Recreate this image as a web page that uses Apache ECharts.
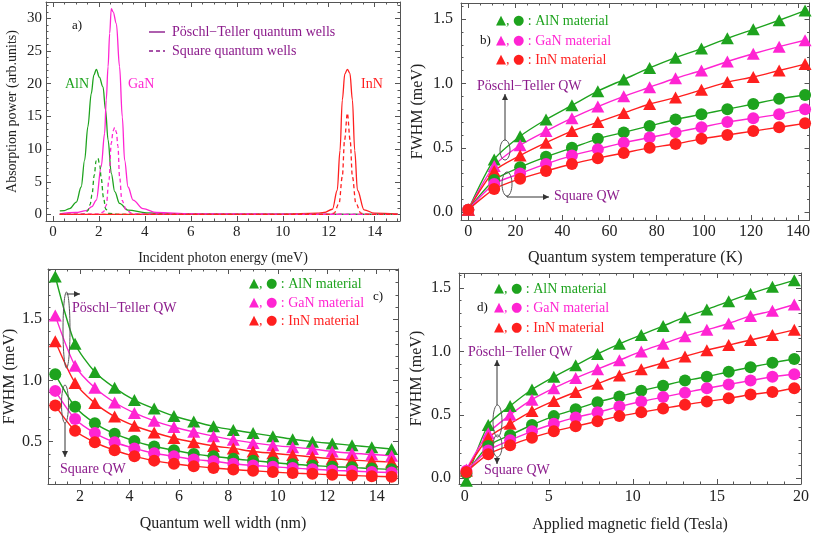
<!DOCTYPE html>
<html><head><meta charset="utf-8">
<script src="https://cdn.jsdelivr.net/npm/echarts@6/dist/echarts.min.js"></script>
<style>html,body{margin:0;padding:0;background:#fff}#c{width:813px;height:535px}</style>
</head><body><div id="c"></div>
<script>
// ---------- DATA ----------
// Panel a: absorption power vs incident photon energy (meV), [energy, power]
const aAlnPT = [[0.3,0.55],[0.5,0.6],[0.73,0.9],[1.02,1.9],[1.23,4.2],[1.38,8.3],[1.52,13.4],[1.67,18.5],[1.78,21.3],[1.89,22.2],[2.02,21.0],[2.18,19.5],[2.29,16.0],[2.40,11.4],[2.54,6.3],[2.69,3.5],[2.90,1.7],[3.27,0.66],[4.07,0.25],[5.0,0.12],[8.0,0.05],[11.0,0.03],[15.0,0.02]];
const aGanPT = [[0.3,0.1],[1.0,0.3],[1.45,0.6],[1.7,1.2],[1.89,2.2],[2.1,7.3],[2.25,12.4],[2.32,17.5],[2.40,22.6],[2.47,27.7],[2.54,31.5],[2.62,31.0],[2.76,29.2],[2.90,22.6],[3.02,14.9],[3.12,8.3],[3.27,4.2],[3.49,2.2],[3.92,0.9],[4.5,0.3],[6.0,0.1],[10.0,0.03],[15.0,0.01]];
const aInnPT = [[0.3,0.0],[10.0,0.02],[11.5,0.2],[11.8,0.3],[12.16,0.8],[12.37,3.7],[12.49,9.8],[12.59,17.5],[12.70,21.5],[12.81,22.2],[12.92,21.6],[13.03,17.5],[13.13,9.8],[13.25,3.7],[13.54,0.7],[13.98,0.2],[15.0,0.05]];
const aAlnSq = [[0.3,0.0],[1.2,0.02],[1.4,0.1],[1.52,0.6],[1.62,1.5],[1.70,3.0],[1.80,6.0],[1.88,8.2],[1.96,8.6],[2.04,7.5],[2.10,5.6],[2.20,2.6],[2.30,0.8],[2.45,0.15],[2.8,0.02],[15.0,0.0]];
const aGanSq = [[0.3,0.0],[2.0,0.05],[2.2,0.4],[2.32,1.4],[2.44,5.3],[2.54,10.9],[2.62,12.8],[2.69,13.3],[2.76,12.6],[2.83,10.4],[2.90,5.8],[3.0,2.2],[3.2,0.6],[3.5,0.1],[15.0,0.0]];
const aInnSq = [[0.3,0.0],[12.0,0.02],[12.23,0.2],[12.45,1.7],[12.59,5.8],[12.69,11.4],[12.81,15.5],[12.93,11.4],[13.03,5.8],[13.18,1.7],[13.4,0.2],[13.7,0.02],[15.0,0.0]];
const aXTicks = [0,2,4,6,8,10,12,14];
const aYTicks = [0,5,10,15,20,25,30];

// Panel b: FWHM (meV) vs temperature (K)
const bTemp  = [0,11,22,33,44,55,66,77,88,99,110,121,132,143];
const bAlnPT = [0.02,0.41,0.59,0.72,0.83,0.94,1.03,1.12,1.20,1.27,1.35,1.42,1.49,1.565];
const bGanPT = [0.02,0.36,0.52,0.63,0.73,0.82,0.90,0.97,1.04,1.10,1.17,1.23,1.285,1.335];
const bInnPT = [0.02,0.32,0.44,0.54,0.63,0.70,0.77,0.84,0.89,0.95,1.01,1.05,1.10,1.15];
const bAlnSq = [0.02,0.25,0.35,0.43,0.50,0.57,0.62,0.67,0.72,0.76,0.80,0.84,0.88,0.91];
const bGanSq = [0.02,0.22,0.30,0.375,0.44,0.49,0.54,0.58,0.62,0.66,0.70,0.73,0.76,0.80];
const bInnSq = [0.02,0.18,0.26,0.32,0.375,0.42,0.46,0.50,0.53,0.57,0.60,0.63,0.66,0.69];
const bXTicks = [0,20,40,60,80,100,120,140];
const bYTicks = [0,0.5,1.0,1.5];

// Panel c: FWHM (meV) vs quantum well width (nm)
const cWidth = [1.0,1.8,2.6,3.4,4.2,5.0,5.8,6.6,7.4,8.2,9.0,9.8,10.6,11.4,12.2,13.0,13.8,14.6];
const cAlnPT = [1.85,1.30,1.07,0.94,0.84,0.77,0.71,0.665,0.625,0.595,0.57,0.545,0.52,0.50,0.485,0.47,0.455,0.44];
const cGanPT = [1.53,1.12,0.94,0.82,0.735,0.67,0.62,0.58,0.545,0.515,0.49,0.47,0.455,0.44,0.42,0.405,0.395,0.385];
const cInnPT = [1.32,0.98,0.815,0.705,0.63,0.575,0.53,0.495,0.465,0.445,0.42,0.405,0.39,0.375,0.36,0.35,0.34,0.335];
const cAlnSq = [1.05,0.785,0.65,0.565,0.505,0.46,0.43,0.40,0.38,0.36,0.345,0.33,0.315,0.305,0.295,0.29,0.28,0.275];
const cGanSq = [0.915,0.685,0.57,0.495,0.445,0.405,0.38,0.355,0.34,0.32,0.305,0.295,0.285,0.275,0.265,0.26,0.253,0.248];
const cInnSq = [0.795,0.59,0.495,0.43,0.38,0.345,0.32,0.30,0.285,0.272,0.262,0.252,0.243,0.237,0.229,0.223,0.218,0.213];
const cXTicks = [2,4,6,8,10,12,14];
const cYTicks = [0.5,1.0,1.5];

// Panel d: FWHM (meV) vs applied magnetic field (Tesla)
const dField = [0.1,1.4,2.7,4.0,5.3,6.6,7.9,9.2,10.5,11.8,13.1,14.4,15.7,17.0,18.3,19.6];
const dAlnPT = [-0.02,0.42,0.57,0.70,0.80,0.89,0.98,1.06,1.13,1.20,1.27,1.33,1.395,1.455,1.51,1.56];
const dGanPT = [0.07,0.355,0.50,0.62,0.71,0.79,0.86,0.93,1.00,1.06,1.12,1.17,1.22,1.28,1.32,1.37];
const dInnPT = [0.06,0.32,0.43,0.53,0.61,0.68,0.745,0.81,0.86,0.91,0.96,1.01,1.05,1.09,1.13,1.17];
const dAlnSq = [0.04,0.255,0.34,0.42,0.49,0.545,0.60,0.645,0.69,0.73,0.77,0.80,0.84,0.875,0.91,0.94];
const dGanSq = [0.06,0.22,0.30,0.37,0.43,0.48,0.52,0.565,0.605,0.64,0.675,0.71,0.74,0.77,0.80,0.82];
const dInnSq = [0.05,0.19,0.26,0.32,0.37,0.41,0.45,0.49,0.52,0.55,0.58,0.605,0.63,0.66,0.68,0.71];
const dXTicks = [0,5,10,15,20];
const dYTicks = [0,0.5,1.0,1.5];

const materials = ['AlN','GaN','InN'];

// ---------- STYLE ----------
const FONT = "'Liberation Serif','DejaVu Serif',serif";
const GREEN = '#1ea31e', MAG = '#ff24d2', RED = '#ff1f1f', PURPLE = '#8b1a8b';
const COLORS = [GREEN, MAG, RED];
const AXC = '#555';

function range(a, b, s) { const r = []; for (let v = a; v <= b + 1e-9; v += s) r.push(+v.toFixed(4)); return r; }

const xAxes = [], yAxes = [];
function panelAxes(gi, c) {
  const xi = xAxes.length, yi = yAxes.length;
  const base = { gridIndex: gi, type: 'value', splitLine: { show: false } };
  const line = { show: true, onZero: false, lineStyle: { color: AXC, width: 1 } };
  const noLine = { show: false, onZero: false };
  const tick = (vals, len) => ({ show: true, inside: true, length: len, customValues: vals, lineStyle: { color: AXC, width: 1 } });
  const nts = { fontFamily: FONT, fontSize: c.nameFs, color: '#222' };
  xAxes.push(Object.assign({}, base, { min: c.xr[0], max: c.xr[1], position: 'bottom', axisLine: line, axisTick: tick(c.xMajor, 5),
    axisLabel: { show: true, customValues: c.xMajor, margin: c.xMargin, color: '#222', fontFamily: FONT, fontSize: c.tickFs },
    name: c.xName, nameLocation: 'middle', nameGap: c.xGap, nameTextStyle: nts }));
  xAxes.push(Object.assign({}, base, { min: c.xr[0], max: c.xr[1], position: 'top', axisLine: line, axisTick: tick(c.xMajor, 5), axisLabel: { show: false } }));
  xAxes.push(Object.assign({}, base, { min: c.xr[0], max: c.xr[1], position: 'bottom', axisLine: noLine, axisTick: tick(c.xMinor, 2.5), axisLabel: { show: false } }));
  xAxes.push(Object.assign({}, base, { min: c.xr[0], max: c.xr[1], position: 'top', axisLine: noLine, axisTick: tick(c.xMinor, 2.5), axisLabel: { show: false } }));
  yAxes.push(Object.assign({}, base, { min: c.yr[0], max: c.yr[1], position: 'left', axisLine: line, axisTick: tick(c.yMajor, 5),
    axisLabel: { show: true, customValues: c.yMajor, margin: c.yMargin, color: '#222', fontFamily: FONT, fontSize: c.tickFs, formatter: c.yFmt },
    name: c.yName, nameLocation: 'middle', nameGap: c.yGap, nameTextStyle: nts }));
  yAxes.push(Object.assign({}, base, { min: c.yr[0], max: c.yr[1], position: 'right', axisLine: line, axisTick: tick(c.yMajor, 5), axisLabel: { show: false } }));
  yAxes.push(Object.assign({}, base, { min: c.yr[0], max: c.yr[1], position: 'left', axisLine: noLine, axisTick: tick(c.yMinor, 2.5), axisLabel: { show: false } }));
  yAxes.push(Object.assign({}, base, { min: c.yr[0], max: c.yr[1], position: 'right', axisLine: noLine, axisTick: tick(c.yMinor, 2.5), axisLabel: { show: false } }));
  return { xi, yi };
}
const f1 = v => (+v).toFixed(1);

const grids = [
  { left: 46, top: 2, width: 354, height: 219 },
  { left: 461, top: 3, width: 349, height: 217 },
  { left: 48, top: 269, width: 350, height: 215 },
  { left: 459, top: 273, width: 342, height: 211 }
];

const A = panelAxes(0, { xr: [-0.3, 15.1], yr: [-1, 32.5], xMajor: aXTicks, xMinor: range(0, 15, 0.5), yMajor: aYTicks, yMinor: range(0, 32, 1),
  xName: 'Incident photon energy (meV)', yName: 'Absorption power (arb.units)', xGap: 30, yGap: 27, xMargin: 4, yMargin: 4, tickFs: 15, nameFs: 14 });
const B = panelAxes(1, { xr: [-3.1, 144.9], yr: [-0.06, 1.624], xMajor: bXTicks, xMinor: range(0, 144, 5), yMajor: bYTicks, yMinor: range(0, 1.6, 0.1),
  xName: 'Quantum system temperature (K)', yName: 'FWHM (meV)', xGap: 30, yGap: 35, xMargin: 4, yMargin: 8, tickFs: 16, nameFs: 16, yFmt: f1 });
const C = panelAxes(2, { xr: [0.706, 14.86], yr: [0.154, 1.911], xMajor: cXTicks, xMinor: range(1, 14.5, 0.5), yMajor: cYTicks, yMinor: range(0.2, 1.9, 0.1),
  xName: 'Quantum well width (nm)', yName: 'FWHM (meV)', xGap: 32, yGap: 28, xMargin: 5, yMargin: 6, tickFs: 16, nameFs: 16, yFmt: f1 });
const D = panelAxes(3, { xr: [-0.34, 20], yr: [-0.045, 1.618], xMajor: dXTicks, xMinor: range(0, 20, 1), yMajor: dYTicks, yMinor: range(0, 1.6, 0.1),
  xName: 'Applied magnetic field (Tesla)', yName: 'FWHM (meV)', xGap: 33, yGap: 34, xMargin: 5, yMargin: 8, tickFs: 16, nameFs: 16, yFmt: f1 });

const series = [];
[[aAlnPT, 0, 'solid'], [aGanPT, 1, 'solid'], [aInnPT, 2, 'solid'], [aAlnSq, 0, 'dashed'], [aGanSq, 1, 'dashed'], [aInnSq, 2, 'dashed']].forEach(([d, ci, ty]) => {
  series.push({ type: 'line', xAxisIndex: A.xi, yAxisIndex: A.yi, data: d, showSymbol: false, smooth: 0.35, smoothMonotone: 'x',
    lineStyle: { color: COLORS[ci], width: 1.3, type: ty === 'dashed' ? [4, 3] : 'solid' }, clip: true, silent: true });
});
function fwhmSeries(ax, xs, sets) {
  sets.forEach(([ys, ci, sym]) => {
    series.push({ type: 'line', xAxisIndex: ax.xi, yAxisIndex: ax.yi, data: xs.map((x, i) => [x, ys[i]]), smooth: 0.25,
      symbol: sym, symbolSize: sym === 'triangle' ? [13, 12] : 12, showAllSymbol: true, clip: true,
      itemStyle: { color: COLORS[ci] }, lineStyle: { color: COLORS[ci], width: 1.4 }, silent: true });
  });
}
fwhmSeries(B, bTemp, [[bAlnPT, 0, 'triangle'], [bGanPT, 1, 'triangle'], [bInnPT, 2, 'triangle'], [bAlnSq, 0, 'circle'], [bGanSq, 1, 'circle'], [bInnSq, 2, 'circle']]);
fwhmSeries(C, cWidth, [[cAlnPT, 0, 'triangle'], [cGanPT, 1, 'triangle'], [cInnPT, 2, 'triangle'], [cAlnSq, 0, 'circle'], [cGanSq, 1, 'circle'], [cInnSq, 2, 'circle']]);
fwhmSeries(D, dField, [[dAlnPT, 0, 'triangle'], [dGanPT, 1, 'triangle'], [dInnPT, 2, 'triangle'], [dAlnSq, 0, 'circle'], [dGanSq, 1, 'circle'], [dInnSq, 2, 'circle']]);

// ---------- ANNOTATIONS ----------
const G = [];
function txt(t, x, y, fill, fs, align, rich) {
  const st = { text: t, x: x, y: y, fill: fill, fontFamily: FONT, fontSize: fs || 14, verticalAlign: 'middle', align: align || 'left' };
  if (rich) st.rich = rich;
  G.push({ type: 'text', z: 100, style: st });
}
function ln(x1, y1, x2, y2, color, dash, w) {
  G.push({ type: 'line', z: 100, shape: { x1, y1, x2, y2 }, style: { stroke: color, lineWidth: w || 1, lineDash: dash || null } });
}
function ell(cx, cy, rx, ry) {
  G.push({ type: 'ellipse', z: 100, shape: { cx, cy, rx, ry }, style: { fill: null, stroke: '#555', lineWidth: 1 } });
}
function arrow(x1, y1, x2, y2) {
  ln(x1, y1, x2, y2, '#333');
  const a = Math.atan2(y2 - y1, x2 - x1), L = 6, W = 3;
  const bx = x2 - L * Math.cos(a), by = y2 - L * Math.sin(a);
  G.push({ type: 'polygon', z: 100, shape: { points: [[x2, y2], [bx + W * Math.sin(a), by - W * Math.cos(a)], [bx - W * Math.sin(a), by + W * Math.cos(a)]] }, style: { fill: '#333' } });
}
function legend3(x, ys) {
  materials.forEach((m, i) => txt('{s|\u25B2}{t|, }{s|\u25CF}{t| : ' + m + ' material}', x, ys[i], COLORS[i], 14,
    'left', { s: { fontSize: 13, fontFamily: "'DejaVu Sans',sans-serif", fill: COLORS[i] }, t: { fontSize: 14, fontFamily: FONT, fill: COLORS[i] } }));
}
// panel a
ln(149, 32, 165, 32, PURPLE, null, 1.4); txt('Pöschl\u2212Teller quantum wells', 172, 32, PURPLE, 14);
ln(149, 51, 165, 51, PURPLE, [4, 3], 1.4); txt('Square quantum wells', 172, 51, PURPLE, 14);
txt('a)', 72, 26, '#111', 13);
txt('AlN', 65, 84, GREEN, 14); txt('GaN', 128, 84, MAG, 14); txt('InN', 361, 84, RED, 14);
// panel b
legend3(496, [21, 41, 60]); txt('b)', 480, 41, '#111', 13);
ell(505, 150, 5, 10); ell(507, 184, 5, 12);
arrow(505, 140, 505, 94); txt('Pöschl\u2212Teller QW', 477, 86, PURPLE, 14);
ln(507, 196, 507, 197, '#333'); arrow(507, 197, 549, 197); txt('Square QW', 554, 196, PURPLE, 14);
// panel c
legend3(249, [284, 303, 321]); txt('c)', 373, 297, '#111', 13);
ell(66.5, 330, 3.5, 38); arrow(66.5, 294, 80, 294); txt('Pöschl\u2212Teller QW', 72, 308, PURPLE, 14);
ell(65, 404, 3.5, 19); arrow(65, 423, 65, 457); txt('Square QW', 60, 469, PURPLE, 14);
// panel d
legend3(494, [289, 308, 328]); txt('d)', 477, 308, '#111', 13);
ell(497.5, 421, 4.5, 16); ell(497.5, 446, 4.5, 11);
arrow(497, 405, 497, 360); txt('Pöschl\u2212Teller QW', 468, 352, PURPLE, 14);
arrow(497, 457, 497, 464); txt('Square QW', 484, 470, PURPLE, 14);

const chart = echarts.init(document.getElementById('c'), null, { renderer: 'canvas' });
chart.setOption({
  animation: false,
  backgroundColor: '#fff',
  grid: grids,
  xAxis: xAxes,
  yAxis: yAxes,
  series: series,
  graphic: G
});
</script></body></html>
